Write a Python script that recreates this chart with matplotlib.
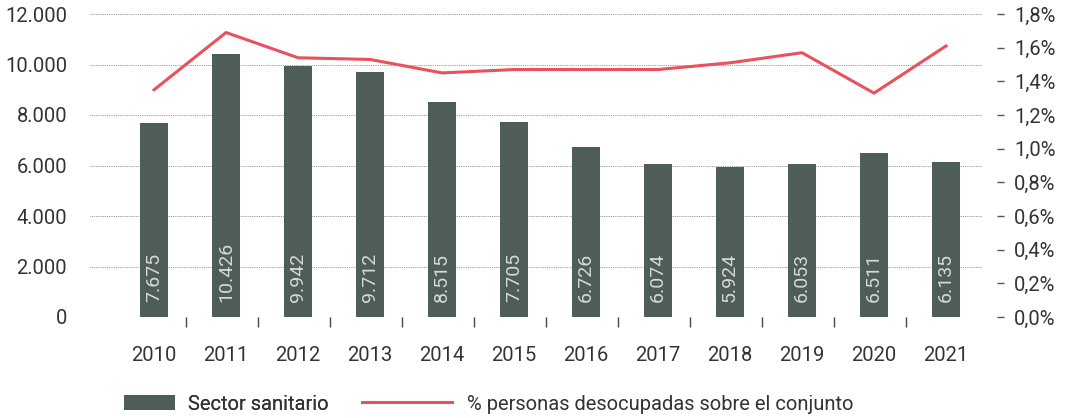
import matplotlib.pyplot as plt
from matplotlib.ticker import FuncFormatter, MultipleLocator

years = ['2010', '2011', '2012', '2013', '2014', '2015', '2016', '2017', '2018', '2019', '2020', '2021']
sector = [7675, 10426, 9942, 9712, 8515, 7705, 6726, 6074, 5924, 6053, 6511, 6135]
pct = [1.35, 1.69, 1.54, 1.53, 1.45, 1.47, 1.47, 1.47, 1.51, 1.57, 1.33, 1.61]

bar_col = '#4f5d57'
line_col = '#e8515d'
txt_col = '#333333'
plt.rcParams['font.family'] = ['Roboto', 'DejaVu Sans']

fig = plt.figure(figsize=(10.65, 4.18), dpi=100)
ax = fig.add_axes([90 / 1065, 1 - 317 / 418, 892 / 1065, 303 / 418])

x = list(range(len(years)))
ax.bar(x, sector, width=0.39, color=bar_col, zorder=3, label='Sector sanitario')
for xi, v in zip(x, sector):
    ax.annotate(f'{v:,}'.replace(',', '.'), (xi, 0), xytext=(0, 11), textcoords='offset points',
                rotation=90, ha='center', va='bottom', color='#d6d9d7', fontsize=14,
                zorder=4)

ax.set_ylim(0, 12000)
ax.set_xlim(-0.89, 11.5)
ax.yaxis.set_major_locator(MultipleLocator(2000))
ax.yaxis.set_major_formatter(FuncFormatter(lambda v, p: f'{int(v):,}'.replace(',', '.')))
ax.grid(axis='y', linestyle=(0, (1, 1.2)), color='#777777', linewidth=0.6, zorder=0)
for s in ax.spines.values():
    s.set_visible(False)
ax.tick_params(axis='y', length=0, pad=16.5, labelsize=14.5, labelcolor=txt_col)
ax.set_xticks(x)
ax.set_xticklabels(years)
ax.set_xticks([i + 0.45 for i in x[:-1]], minor=True)
ax.tick_params(axis='x', which='major', length=0, pad=21, labelsize=14.5, labelcolor=txt_col)
ax.tick_params(axis='x', which='minor', length=7, width=1, color='#444444')

ax2 = ax.twinx()
ax2.plot(x, pct, color=line_col, linewidth=2.2, zorder=5, label='% personas desocupadas sobre el conjunto')
ax2.set_ylim(0, 1.8)
ax2.yaxis.set_major_locator(MultipleLocator(0.2))
ax2.yaxis.set_major_formatter(FuncFormatter(lambda v, p: f'{v:.1f}'.replace('.', ',') + '%'))
for s in ax2.spines.values():
    s.set_visible(False)
ax2.spines['right'].set_position(('outward', 11))
ax2.tick_params(axis='y', length=5, width=1, color='#555555', pad=7, labelsize=14.5, labelcolor=txt_col)

h1, l1 = ax.get_legend_handles_labels()
h2, l2 = ax2.get_legend_handles_labels()
leg1 = fig.legend(h1, l1, loc='center left', bbox_to_anchor=(124 / 1065, 1 - 404 / 418),
                  frameon=False, handlelength=2.53, handleheight=0.7, borderpad=0, borderaxespad=0,
                  handletextpad=0.65, labelcolor=txt_col, prop={'size': 14.5})
leg2 = fig.legend(h2, l2, loc='center left', bbox_to_anchor=(362 / 1065, 1 - 404 / 418),
                  frameon=False, handlelength=4.47, handletextpad=0.75, borderpad=0, borderaxespad=0,
                  labelcolor=txt_col, prop={'size': 14.5})
fig.add_artist(leg1)

fig.savefig('out.png', dpi=100)
